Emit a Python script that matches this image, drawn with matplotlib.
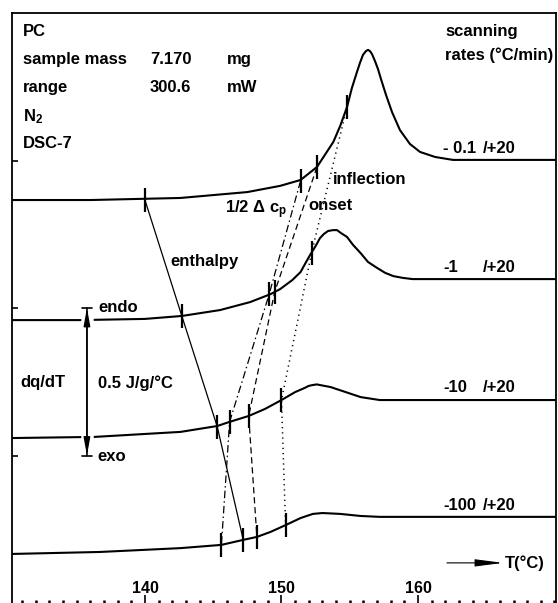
import numpy as np
import matplotlib.pyplot as plt
from matplotlib.ticker import MultipleLocator


#Fonts - bold helvetica look
plt.rcParams['font.family'] = ['Liberation Sans', 'DejaVu Sans']
plt.rcParams['font.weight'] = 'bold'
plt.rcParams['mathtext.fontset'] = 'custom'
plt.rcParams['mathtext.rm'] = 'Liberation Sans:bold'
plt.rcParams['mathtext.it'] = 'Liberation Sans:bold'
plt.rcParams['mathtext.bf'] = 'Liberation Sans:bold'


#DSC heating curves (T in °C, dq/dT in J/g/°C, shifted per cooling rate)
t_01 = [130.0, 136.0, 142.6, 147.5, 149.9, 151.4, 152.0, 152.6, 153.8, 154.3, 154.8, 155.16, 155.53,
        155.75, 155.97, 156.19, 156.34, 156.48, 156.63, 156.85, 157.07, 157.29, 157.66, 158.1, 158.68,
        159.41, 160.15, 161.25, 162.56, 170.5]
y_01 = [1.366, 1.366, 1.373, 1.393, 1.414, 1.434, 1.456, 1.478, 1.563, 1.617, 1.681, 1.746, 1.800,
        1.831, 1.858, 1.871, 1.875, 1.871, 1.861, 1.837, 1.810, 1.776, 1.722, 1.664, 1.603,
        1.556, 1.529, 1.512, 1.502, 1.502]

t_1 = [130.0, 135.2, 140.0, 142.7, 145.5, 147.7, 149.2, 149.9, 150.8, 151.4, 151.72, 152.1, 152.5,
       152.82, 153.11, 153.41, 153.77, 154.07, 154.36, 154.8, 155.24, 155.8, 156.34, 157.0, 157.6,
       158.2, 158.9, 159.6, 170.5]
y_1 = [0.959, 0.959, 0.963, 0.973, 0.993, 1.020, 1.047, 1.064, 1.095, 1.122, 1.149, 1.180, 1.210,
       1.237, 1.251, 1.261, 1.264, 1.264, 1.254, 1.241, 1.214, 1.186, 1.156, 1.136, 1.119,
       1.108, 1.102, 1.098, 1.098]

t_10 = [130.0, 136.3, 140.0, 142.6, 145.3, 146.2, 147.6, 148.8, 150.0, 151.0, 151.7, 152.0, 152.3,
        152.6, 152.8, 153.6, 154.7, 155.8, 157.2, 170.5]
y_10 = [0.559, 0.563, 0.573, 0.580, 0.600, 0.614, 0.634, 0.658, 0.688, 0.715, 0.729, 0.736, 0.739,
        0.741, 0.739, 0.732, 0.715, 0.698, 0.688, 0.688]

t_100 = [130.0, 136.7, 142.6, 145.6, 147.2, 148.2, 149.2, 150.3, 151.4, 152.3, 153.0, 154.3, 155.8,
         157.2, 170.5]
y_100 = [0.166, 0.173, 0.186, 0.197, 0.214, 0.224, 0.241, 0.264, 0.288, 0.302, 0.305, 0.302, 0.295,
         0.292, 0.292]


#Characteristic temperatures marked on each curve (top curve first)
enth_t = [140.0, 142.7, 145.3, 147.2]
enth_y = [1.366, 0.973, 0.597, 0.214]
half_t = [151.4, 149.1, 146.2, 145.6]
half_y = [1.431, 1.047, 0.614, 0.197]
onset_t = [152.6, 149.5, 147.6, 148.2]
onset_y = [1.478, 1.054, 0.634, 0.224]
infl_t = [154.8, 152.2, 150.0, 150.3]
infl_y = [1.681, 1.186, 0.688, 0.264]


#Scanning rate labels (cooling / heating) and their heights
cool_rates = ['- 0.1', '-1', '-10', '-100']
rate_y = [1.542, 1.136, 0.732, 0.332]


#Tick labels
x_major = [140, 150, 160]
y_major = [0.5, 1.0, 1.5]



#Figure
fig = plt.figure(figsize=(5.58, 6.03), dpi=100, facecolor='white')
ax = fig.add_axes([12/558, 0, 544/558, 590/603])
ax.set_xlim(130.26, 170.11)
ax.set_ylim(0, 2.0)


#Curves
for t, y in [(t_01, y_01), (t_1, y_1), (t_10, y_10), (t_100, y_100)]:
    ax.plot(t, y, color='black', lw=1.5, solid_joinstyle='round', zorder=2)


#Connecting lines between the marked temperatures
ax.plot(enth_t, enth_y, color='black', lw=0.9, zorder=2)
ax.plot(half_t, half_y, color='black', lw=0.9, linestyle=(0, (6, 2.5, 1.2, 2.5)), zorder=2)
ax.plot(onset_t, onset_y, color='black', lw=0.9, linestyle=(0, (5, 3)), zorder=2)
ax.plot(infl_t, infl_y, color='black', lw=1.1, linestyle=(0, (0.8, 2.6)), zorder=2)


#Short vertical marks on the curves
for mt, my in [(enth_t, enth_y), (half_t, half_y), (onset_t, onset_y), (infl_t, infl_y)]:
    my = np.array(my)
    ax.vlines(mt, my - 0.04, my + 0.04, color='black', lw=1.6, zorder=3)


#Scale bar 0.5 J/g/°C
bar_t = 135.75
ax.vlines(bar_t, 0.5, 1.0, color='white', lw=9, zorder=2.5)
ax.annotate('', xy=(bar_t, 1.0), xytext=(bar_t, 0.5),
            arrowprops=dict(arrowstyle='<|-|>,head_length=1.1,head_width=0.2', lw=0.9,
                            color='black', shrinkA=0, shrinkB=0, mutation_scale=10), zorder=3)
ax.annotate('', xy=(bar_t, 1.0), xytext=(bar_t, 0.5),
            arrowprops=dict(arrowstyle='|-|,widthA=0.35,widthB=0.35', lw=1.2,
                            color='black', shrinkA=0, shrinkB=0, mutation_scale=10), zorder=3)


#Temperature arrow
ax.annotate('', xy=(166.23, 0.136), xytext=(162.12, 0.136),
            arrowprops=dict(arrowstyle='-|>,head_length=1.7,head_width=0.22', lw=0.8,
                            color='black', shrinkA=0, shrinkB=0, mutation_scale=10))


#Texts
fs = 12
ax.text(131.06, 1.936, 'PC', fontsize=fs, va='center')
ax.text(131.06, 1.844, 'sample mass', fontsize=fs, va='center')
ax.text(140.37, 1.844, '7.170', fontsize=fs, va='center')
ax.text(146.01, 1.844, 'mg', fontsize=fs, va='center')
ax.text(131.06, 1.749, 'range', fontsize=fs, va='center')
ax.text(140.37, 1.749, '300.6', fontsize=fs, va='center')
ax.text(146.01, 1.749, 'mW', fontsize=fs, va='center')
ax.text(131.06, 1.647, 'N$_2$', fontsize=fs, va='center')
ax.text(131.06, 1.556, 'DSC-7', fontsize=fs, va='center')

ax.text(161.98, 1.936, 'scanning', fontsize=fs, va='center')
ax.text(161.98, 1.858, 'rates (°C/min)', fontsize=fs, va='center')
for lab, ry in zip(cool_rates, rate_y):
    ax.text(161.83, ry, lab, fontsize=fs, va='center')
    ax.text(164.76, ry, '/+20', fontsize=fs, va='center')

ax.text(153.77, 1.434, 'inflection', fontsize=fs, va='center')
ax.text(145.86, 1.332, '1/2 Δ c$_p$', fontsize=fs, va='center')
ax.text(151.94, 1.349, 'onset', fontsize=fs, va='center')
ax.text(141.83, 1.156, 'enthalpy', fontsize=fs, va='center')
ax.text(136.56, 1.0, 'endo', fontsize=fs, va='center')
ax.text(130.84, 0.746, 'dq/dT', fontsize=fs, va='center')
ax.text(136.56, 0.746, '0.5 J/g/°C', fontsize=fs, va='center')
ax.text(136.48, 0.495, 'exo', fontsize=fs, va='center')
ax.text(166.37, 0.136, 'T(°C)', fontsize=fs, va='center')


#Axes frame and ticks
ax.spines['bottom'].set_visible(False)
for s in ['left', 'top', 'right']:
    ax.spines[s].set_linewidth(1.3)

ax.set_xticks(x_major)
ax.set_xticklabels([str(v) for v in x_major], fontweight='bold')
ax.xaxis.set_minor_locator(MultipleLocator(1))
ax.tick_params(axis='x', which='major', direction='in', length=6, width=1.2, pad=-16, labelsize=11.5)
ax.tick_params(axis='x', which='minor', direction='in', length=2, width=1.8)

ax.set_yticks(y_major)
ax.tick_params(axis='y', which='major', direction='in', length=4, width=1.2, labelleft=False)


#Save image of graph
plt.savefig('out.png', dpi=100, facecolor='white')
